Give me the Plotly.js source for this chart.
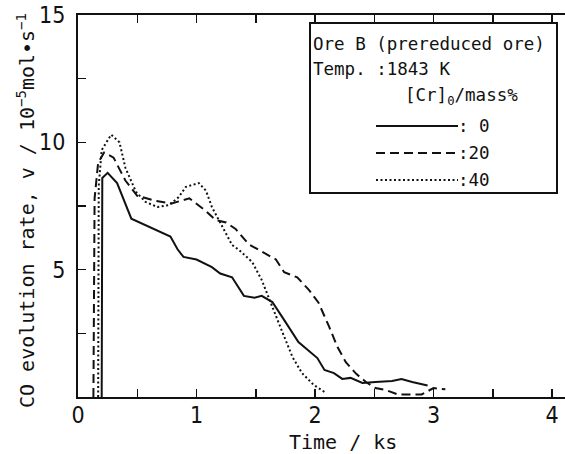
<!DOCTYPE html>
<html>
<head>
<meta charset="utf-8">
<script src="https://cdn.plot.ly/plotly-3.0.1.min.js"></script>
<style>html,body{margin:0;padding:0;background:#fff;}#chart{width:565px;height:454px;}</style>
</head>
<body>
<div id="chart"></div>
<script>
// Data (time in ks, CO evolution rate in 1e-5 mol/s)
var time0  = [0.20, 0.205, 0.25, 0.33, 0.45, 0.78, 0.84, 0.89, 1.00, 1.13, 1.20, 1.30, 1.40, 1.49, 1.55, 1.64, 1.75, 1.86, 2.02, 2.08, 2.16, 2.23, 2.30, 2.40, 2.51, 2.65, 2.73, 2.82, 2.95];
var rate0  = [0, 8.6, 8.8, 8.4, 7.0, 6.3, 5.8, 5.5, 5.4, 5.1, 4.85, 4.7, 3.97, 3.9, 3.97, 3.73, 2.95, 2.16, 1.53, 1.06, 0.94, 0.71, 0.75, 0.55, 0.59, 0.63, 0.71, 0.59, 0.45];

var time20 = [0.13, 0.14, 0.17, 0.22, 0.30, 0.40, 0.50, 0.66, 0.79, 0.94, 1.08, 1.16, 1.25, 1.33, 1.44, 1.55, 1.67, 1.74, 1.85, 1.95, 2.03, 2.12, 2.19, 2.26, 2.35, 2.43, 2.51, 2.60, 2.70, 2.90, 3.00, 3.10];
var rate20 = [0, 7.8, 9.2, 9.6, 9.4, 8.5, 7.9, 7.7, 7.6, 7.8, 7.3, 6.95, 6.85, 6.6, 6.0, 5.7, 5.4, 4.9, 4.7, 4.2, 3.7, 2.75, 1.96, 1.37, 0.9, 0.59, 0.35, 0.27, 0.1, 0.1, 0.35, 0.3];

var time40 = [0.17, 0.175, 0.20, 0.28, 0.35, 0.40, 0.49, 0.57, 0.67, 0.77, 0.85, 0.91, 1.02, 1.08, 1.13, 1.22, 1.30, 1.36, 1.47, 1.55, 1.64, 1.72, 1.81, 1.89, 1.99, 2.08];
var rate40 = [0, 8.3, 9.7, 10.3, 10.0, 9.0, 8.05, 7.66, 7.46, 7.54, 7.85, 8.25, 8.4, 8.1, 7.46, 6.7, 5.97, 5.77, 5.3, 4.6, 3.5, 2.6, 1.57, 0.94, 0.47, 0.2];

var xTickVals = [0, 1, 2, 3, 4];
var xTickText = ['0', '1', '2', '3', '4'];
var yTickVals = [5, 10, 15];
var yTickText = ['5', '10', '15'];

var legendLabels = [': 0', ':20', ':40'];
var legendTitle1 = 'Ore B (prereduced ore)';
var legendTitle2 = 'Temp. :1843 K';
var legendTitle3 = '[Cr]<sub>0</sub>/mass%';
var xTitle = 'Time / ks';
var yTitle = 'CO evolution rate, v / 10<sup>−5</sup>mol•s<sup>−1</sup>';

// layout geometry
var W = 565, H = 454, ML = 78, MR = 0, MT = 15, MB = 57;
var PW = W - ML - MR, PH = H - MT - MB;
function px(x) { return (x - ML) / PW; }
function py(y) { return (H - MB - y) / PH; }

var mono = "'DejaVu Sans Mono', 'Liberation Mono', monospace";
var narrow = "'Liberation Sans Narrow', 'DejaVu Sans Condensed', 'Arial Narrow', sans-serif";

var styles = [
  {color: '#111', width: 2, dash: 'solid'},
  {color: '#111', width: 2, dash: '9px,5px'},
  {color: '#111', width: 2, dash: '2px,2.5px'}
];

var traces = [
  {x: time0, y: rate0, mode: 'lines', line: styles[0], showlegend: false, hoverinfo: 'skip'},
  {x: time20, y: rate20, mode: 'lines', line: styles[1], showlegend: false, hoverinfo: 'skip'},
  {x: time40, y: rate40, mode: 'lines', line: styles[2], showlegend: false, hoverinfo: 'skip'}
];

var annotations = [
  {text: yTitle, xref: 'paper', yref: 'paper', x: px(26), y: py(211), textangle: -90,
   showarrow: false, xanchor: 'center', yanchor: 'middle', font: {family: mono, size: 20, color: '#111'}},
  {text: xTitle, xref: 'paper', yref: 'paper', x: px(343), y: py(442),
   showarrow: false, xanchor: 'center', yanchor: 'middle', font: {family: mono, size: 20, color: '#111'}},
  {text: legendTitle1, xref: 'paper', yref: 'paper', x: px(311), y: py(44),
   showarrow: false, xanchor: 'left', yanchor: 'middle', font: {family: mono, size: 17.5, color: '#111'}},
  {text: legendTitle2, xref: 'paper', yref: 'paper', x: px(311), y: py(69),
   showarrow: false, xanchor: 'left', yanchor: 'middle', font: {family: mono, size: 17.5, color: '#111'}},
  {text: legendTitle3, xref: 'paper', yref: 'paper', x: px(403), y: py(97),
   showarrow: false, xanchor: 'left', yanchor: 'middle', font: {family: mono, size: 17.5, color: '#111'}}
];

var legendY = [126, 153, 180];
var shapes = [
  {type: 'rect', xref: 'paper', yref: 'paper', x0: px(310), x1: px(557), y0: py(23), y1: py(193),
   line: {color: '#111', width: 2}, fillcolor: 'rgba(0,0,0,0)'}
];
for (var i = 0; i < 3; i++) {
  shapes.push({type: 'line', xref: 'paper', yref: 'paper', x0: px(376), x1: px(458), y0: py(legendY[i]), y1: py(legendY[i]),
    line: {color: styles[i].color, width: styles[i].width, dash: styles[i].dash}});
  annotations.push({text: legendLabels[i], xref: 'paper', yref: 'paper', x: px(456), y: py(legendY[i]),
    showarrow: false, xanchor: 'left', yanchor: 'middle', font: {family: mono, size: 17.5, color: '#111'}});
}

var layout = {
  width: W, height: H,
  margin: {l: ML, r: MR, t: MT, b: MB, pad: 0},
  paper_bgcolor: '#fff', plot_bgcolor: '#fff',
  showlegend: false,
  xaxis: {
    range: [0, PW / 118.5], showgrid: false, zeroline: false,
    showline: true, linecolor: '#111', linewidth: 2, mirror: 'ticks',
    tickmode: 'array', tickvals: xTickVals, ticktext: xTickText,
    ticks: 'inside', ticklen: 8, tickwidth: 1.5, tickcolor: '#111',
    minor: {dtick: 0.5, tick0: 0, ticks: 'inside', ticklen: 8, tickwidth: 1.5, tickcolor: '#111', showgrid: false},
    tickfont: {family: narrow, size: 23, color: '#111'},
    ticklabelstandoff: -4
  },
  yaxis: {
    range: [0, 15], showgrid: false, zeroline: false,
    showline: true, linecolor: '#111', linewidth: 2, mirror: false,
    tickmode: 'array', tickvals: yTickVals, ticktext: yTickText,
    ticks: 'inside', ticklen: 8, tickwidth: 1.5, tickcolor: '#111',
    minor: {dtick: 2.5, tick0: 0, ticks: 'inside', ticklen: 8, tickwidth: 1.5, tickcolor: '#111', showgrid: false},
    tickfont: {family: narrow, size: 23, color: '#111'},
    ticklabelstandoff: 6
  },
  annotations: annotations,
  shapes: shapes
};

Plotly.newPlot('chart', traces, layout, {staticPlot: true, displayModeBar: false});
</script>
</body>
</html>
